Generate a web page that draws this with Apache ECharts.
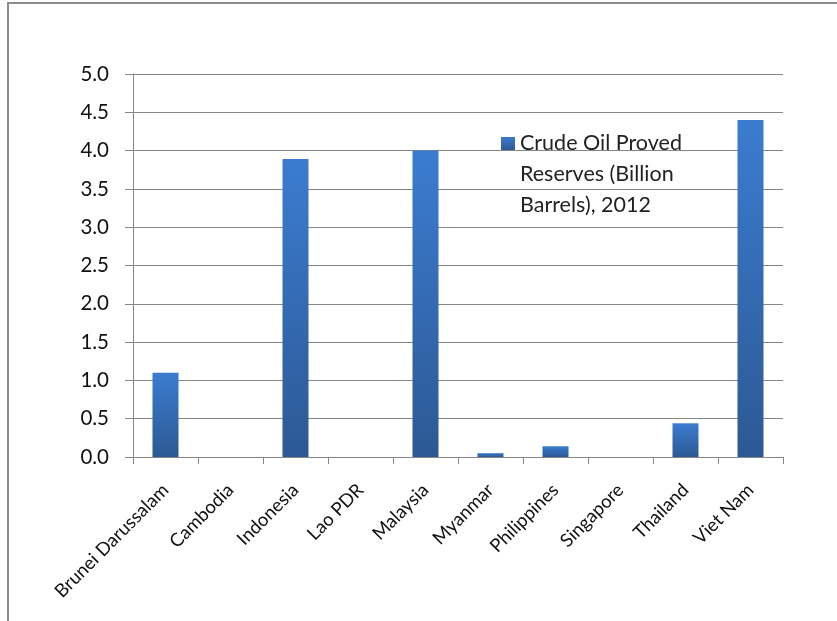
<!DOCTYPE html>
<html>
<head>
<meta charset="utf-8">
<script src="https://cdn.jsdelivr.net/npm/echarts@6/dist/echarts.min.js"></script>
<style>
html,body{margin:0;padding:0;background:#fff;}
#c{width:837px;height:621px;}
</style>
</head>
<body>
<div id="c"></div>
<script>
const categories = ['Brunei Darussalam','Cambodia','Indonesia','Lao PDR','Malaysia','Myanmar','Philippines','Singapore','Thailand','Viet Nam'];
const reserves = [1.10, 0, 3.89, 0, 4.00, 0.05, 0.14, 0, 0.44, 4.40];
const seriesName = 'Crude Oil Proved\nReserves (Billion\nBarrels), 2012';
const yTicks = {min: 0, max: 5, interval: 0.5};

const font = 'Lato,"Open Sans",sans-serif';
const chart = echarts.init(document.getElementById('c'), null, {renderer: 'canvas'});
chart.setOption({
  animation: false,
  backgroundColor: '#fff',
  graphic: [{
    type: 'rect', shape: {x: 8, y: 3, width: 900, height: 700},
    style: {fill: 'none', stroke: '#8c8c8c', lineWidth: 2}, silent: true
  }],
  grid: {left: 133, right: 54, top: 74, bottom: 164},
  legend: {
    left: 496, top: 61, orient: 'vertical',
    itemWidth: 14, itemHeight: 13, itemGap: 8,
    icon: 'rect',
    formatter: name => '\n\n' + name,
    textStyle: {fontFamily: font, fontSize: 21.5, color: '#222', lineHeight: 31},
    data: [seriesName]
  },
  xAxis: {
    type: 'category', data: categories,
    axisLine: {lineStyle: {color: '#868686', width: 1}},
    axisTick: {show: true, length: 7, alignWithLabel: false, lineStyle: {color: '#868686'}},
    axisLabel: {rotate: 45, interval: 0, fontFamily: font, fontSize: 18.5, color: '#111', margin: 30, padding: [28, 0, 0, 0]}
  },
  yAxis: {
    type: 'value', min: yTicks.min, max: yTicks.max, interval: yTicks.interval,
    axisLine: {show: true, lineStyle: {color: '#868686'}},
    axisTick: {show: true, length: 8, lineStyle: {color: '#868686'}},
    splitLine: {lineStyle: {color: '#868686', width: 1}},
    axisLabel: {formatter: v => v.toFixed(1), fontFamily: font, fontSize: 20.5, color: '#111', margin: 24}
  },
  series: [{
    name: seriesName, type: 'bar', data: reserves, barWidth: '40%',
    itemStyle: {
      color: new echarts.graphic.LinearGradient(0, 0, 0, 1, [
        {offset: 0, color: '#3b7cd0'}, {offset: 1, color: '#2c5994'}
      ]),
      borderWidth: 0
    }
  }]
});
</script>
</body>
</html>
